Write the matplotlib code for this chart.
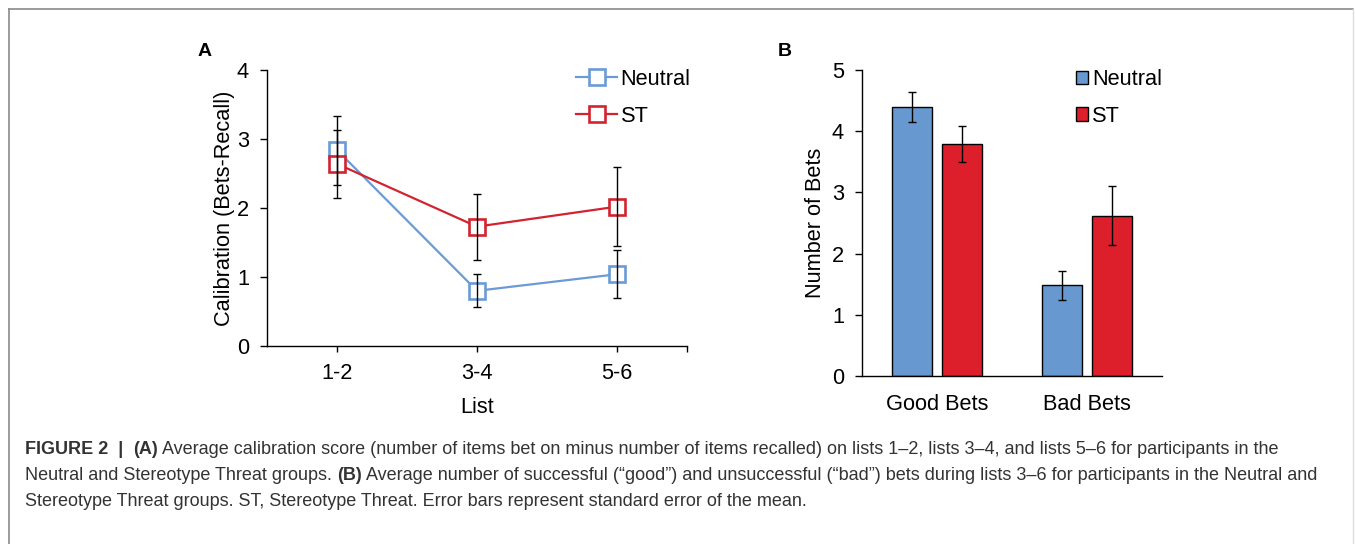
import matplotlib.pyplot as plt
import numpy as np
from matplotlib.lines import Line2D

plt.rcParams['font.family'] = ['Liberation Sans', 'DejaVu Sans']

# panel A: calibration by list
lists = ['1-2', '3-4', '5-6']
neutral_cal = [2.84, 0.80, 1.04]
neutral_cal_se = [0.50, 0.24, 0.35]
st_cal = [2.64, 1.73, 2.02]
st_cal_se = [0.49, 0.48, 0.57]

# panel B: number of bets
bet_types = ['Good Bets', 'Bad Bets']
neutral_bets = [4.40, 1.48]
neutral_bets_se = [0.245, 0.23]
st_bets = [3.79, 2.62]
st_bets_se = [0.29, 0.48]

blue_line = '#6A9BD6'
red_line = '#D2232F'
blue_bar = '#6798D0'
red_bar = '#DD1E2B'

W, H = 1355, 544
fig = plt.figure(figsize=(W / 100, H / 100), dpi=100)


def fx(px):
    return px / W


def fy(py):
    return 1 - py / H


# figure frame (top, left, right)
fig.add_artist(Line2D([fx(9), fx(1353)], [fy(9), fy(9)], color='#8a8a8a', lw=1.2))
fig.add_artist(Line2D([fx(9), fx(9)], [fy(9), 0], color='#8a8a8a', lw=1.2))
fig.add_artist(Line2D([fx(1353), fx(1353)], [fy(9), 0], color='#dddddd', lw=1.0))

fs = 15.7

# ---- Panel A ----
axA = fig.add_axes([fx(267), fy(346), fx(687 - 267), (346 - 70) / H])
x = np.arange(len(lists))
axA.plot(x, neutral_cal, color=blue_line, lw=1.6, marker='s', ms=11.5,
         mfc='white', mec=blue_line, mew=1.9, label='Neutral', zorder=3)
axA.plot(x, st_cal, color=red_line, lw=1.6, marker='s', ms=11.5,
         mfc='white', mec=red_line, mew=1.9, label='ST', zorder=3)
axA.errorbar(x, neutral_cal, yerr=neutral_cal_se, fmt='none', ecolor='black',
             elinewidth=1.0, capsize=3, capthick=1.0, zorder=4)
axA.errorbar(x, st_cal, yerr=st_cal_se, fmt='none', ecolor='black',
             elinewidth=1.0, capsize=3, capthick=1.0, zorder=4)
axA.set_xlim(-0.5, 2.5)
axA.set_ylim(0, 4)
axA.set_yticks([0, 1, 2, 3, 4])
axA.set_xticks(x)
axA.set_xticklabels(lists)
axA.set_xticks([2.5], minor=True)
for s in ['top', 'right']:
    axA.spines[s].set_visible(False)
for s in ['left', 'bottom']:
    axA.spines[s].set_linewidth(1.0)
axA.tick_params(axis='y', length=5, width=1.0, pad=8, labelsize=fs)
axA.tick_params(axis='x', which='both', length=4, width=1.0, pad=8, labelsize=fs)
axA.set_ylabel('Calibration (Bets-Recall)', fontsize=fs, labelpad=1.5)
axA.set_xlabel('List', fontsize=fs, labelpad=9.5)
axA.legend(loc='upper left', bbox_to_anchor=(fx(576), fy(69)),
           bbox_transform=fig.transFigure, frameon=False, fontsize=fs,
           handlelength=1.9, handletextpad=0.15, labelspacing=0.72, borderpad=0,
           borderaxespad=0)

# ---- Panel B ----
axB = fig.add_axes([fx(862), fy(376), fx(1162 - 862), (376 - 70) / H])
xb = np.arange(len(bet_types))
bw = 0.267
off = 0.1667
axB.bar(xb - off, neutral_bets, bw, color=blue_bar, edgecolor='black', lw=1.0,
        label='Neutral', zorder=2)
axB.bar(xb + off, st_bets, bw, color=red_bar, edgecolor='black', lw=1.0,
        label='ST', zorder=2)
axB.errorbar(xb - off, neutral_bets, yerr=neutral_bets_se, fmt='none', ecolor='black',
             elinewidth=1.0, capsize=3, capthick=1.0, zorder=3)
axB.errorbar(xb + off, st_bets, yerr=st_bets_se, fmt='none', ecolor='black',
             elinewidth=1.0, capsize=3, capthick=1.0, zorder=3)
axB.set_xlim(-0.5, 1.5)
axB.set_ylim(0, 5)
axB.set_yticks([0, 1, 2, 3, 4, 5])
axB.set_xticks(xb)
axB.set_xticklabels(bet_types)
for s in ['top', 'right']:
    axB.spines[s].set_visible(False)
for s in ['left', 'bottom']:
    axB.spines[s].set_linewidth(1.0)
axB.tick_params(axis='y', length=5, width=1.0, pad=8, labelsize=fs)
axB.tick_params(axis='x', length=0, pad=13, labelsize=fs)
axB.set_ylabel('Number of Bets', fontsize=fs, labelpad=4)
axB.legend(loc='upper left', bbox_to_anchor=(fx(1076), fy(69)),
           bbox_transform=fig.transFigure, frameon=False, fontsize=fs,
           handlelength=0.55, handleheight=0.55, handletextpad=0.2,
           labelspacing=0.72, borderpad=0, borderaxespad=0)

# panel letters
fig.text(fx(198), fy(51), 'A', fontsize=14, fontweight='bold', va='center')
fig.text(fx(778), fy(51), 'B', fontsize=14, fontweight='bold', va='center')

# ---- caption ----
cap_fs = 13.0
cap_color = '#333333'
caption = [
    [('FIGURE 2  |  ', 'bold'), ('(A)', 'bold'),
     (' Average calibration score (number of items bet on minus number of items recalled) '
      'on lists 1\u20132, lists 3\u20134, and lists 5\u20136 for participants in the', 'normal')],
    [('Neutral and Stereotype Threat groups. ', 'normal'), ('(B)', 'bold'),
     (' Average number of successful (\u201cgood\u201d) and unsuccessful (\u201cbad\u201d) bets '
      'during lists 3\u20136 for participants in the Neutral and', 'normal')],
    [('Stereotype Threat groups. ST, Stereotype Threat. Error bars represent standard '
      'error of the mean.', 'normal')],
]
line_y = [450, 476, 502]
renderer = fig.canvas.get_renderer()
for parts, py in zip(caption, line_y):
    xpos = fx(25)
    for txt, wt in parts:
        t = fig.text(xpos, fy(py), txt, fontsize=cap_fs, fontweight=wt,
                     color=cap_color, va='center', ha='left')
        bb = t.get_window_extent(renderer=renderer)
        xpos += bb.width / W

fig.savefig('out.png', dpi=100)
